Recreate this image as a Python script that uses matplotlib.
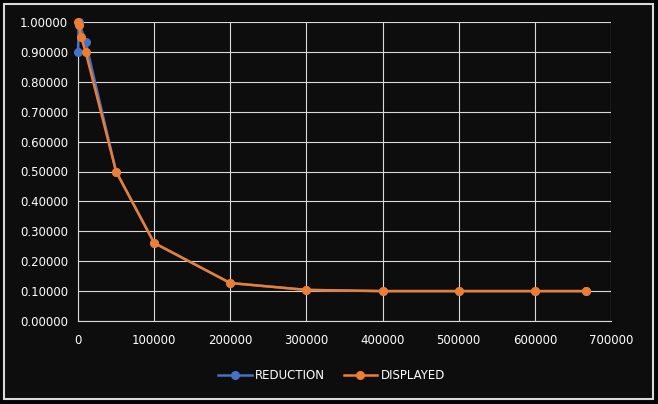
import matplotlib.pyplot as plt
from matplotlib.patches import Rectangle

# values
x_reduction = [0, 1000, 10000, 50000, 100000, 200000, 300000, 400000, 500000, 600000, 666666]
y_reduction = [0.90, 1.00, 0.933, 0.50, 0.261, 0.127, 0.104, 0.100, 0.100, 0.100, 0.100]

x_displayed = [0, 1000, 4000, 10000, 50000, 100000, 200000, 300000, 400000, 500000, 600000, 666666]
y_displayed = [1.00, 0.99, 0.95, 0.90, 0.50, 0.261, 0.127, 0.104, 0.100, 0.100, 0.100, 0.100]

x_ticks = [0, 100000, 200000, 300000, 400000, 500000, 600000, 700000]
y_ticks = [0.0, 0.1, 0.2, 0.3, 0.4, 0.5, 0.6, 0.7, 0.8, 0.9, 1.0]

bg = '#0d0d0d'
grid = '#d9d9d9'
blue = '#4472c4'
orange = '#ed7d31'

fig = plt.figure(figsize=(6.58, 4.04), dpi=100, facecolor='#050505')
fig.patches.append(Rectangle((4 / 658, 5 / 404), 649 / 658, 395 / 404, transform=fig.transFigure,
                             facecolor=bg, edgecolor=grid, linewidth=1.5, zorder=0))
ax = fig.add_axes([78 / 658, 1 - 321 / 404, 533 / 658, 299 / 404])
ax.set_zorder(2)
ax.set_facecolor(bg)

ax.plot(x_reduction, y_reduction, color=blue, marker='o', markersize=5.5, linewidth=1.8,
        label='REDUCTION', clip_on=False, zorder=3)
ax.plot(x_displayed, y_displayed, color=orange, marker='o', markersize=5.5, linewidth=1.8,
        label='DISPLAYED', clip_on=False, zorder=4)

ax.set_xlim(0, 700000)
ax.set_ylim(0, 1.0)
ax.set_xticks(x_ticks)
ax.set_yticks(y_ticks)
ax.set_xticklabels([str(v) for v in x_ticks])
ax.set_yticklabels(['%.5f' % v for v in y_ticks])
ax.grid(True, color=grid, linewidth=0.8)
ax.set_axisbelow(True)
for s in ['top', 'right']:
    ax.spines[s].set_visible(False)
for s in ['left', 'bottom']:
    ax.spines[s].set_color(grid)
    ax.spines[s].set_linewidth(0.8)
ax.tick_params(length=0, colors='white', labelsize=8.5)
ax.tick_params(axis='x', pad=9)
ax.tick_params(axis='y', pad=7)

leg = ax.legend(loc='upper center', bbox_to_anchor=(0.476, -0.125), ncol=2, frameon=False,
                fontsize=8.5, labelcolor='white', handlelength=2.8, handletextpad=0.3,
                columnspacing=1.6)

fig.savefig('out.png', facecolor=fig.get_facecolor())
